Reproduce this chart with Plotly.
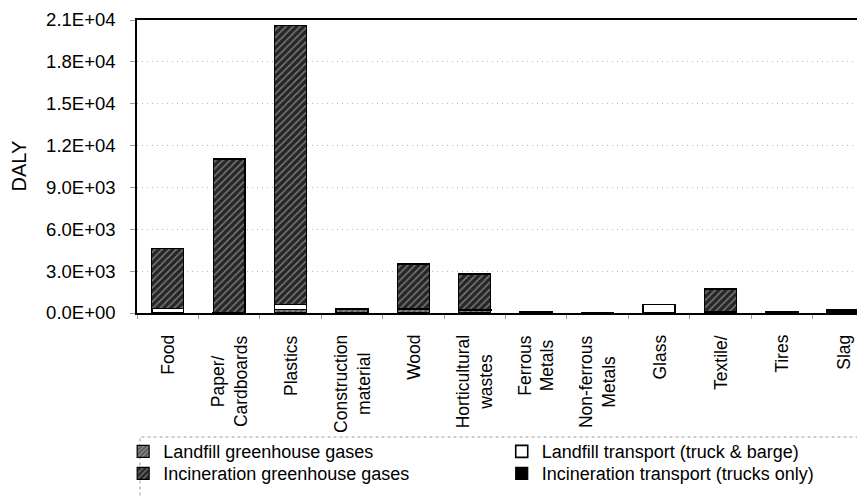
import plotly.graph_objects as go

categories = ["Food", "Paper/<br>Cardboards", "Plastics", "Construction<br>material", "Wood",
              "Horticultural<br>wastes", "Ferrous<br>Metals", "Non-ferrous<br>Metals", "Glass",
              "Textile/", "Tires", "Slag"]

landfill_ghg = [40, 30, 250, 250, 300, 200, 60, 20, 0, 100, 60, 60]
landfill_transport = [280, 20, 350, 30, 20, 20, 10, 10, 620, 10, 20, 150]
incineration_ghg = [4280, 10950, 20000, 0, 3180, 2580, 0, 0, 0, 1590, 0, 0]
incineration_transport = [20, 50, 30, 0, 20, 20, 0, 0, 0, 20, 0, 0]

y_ticks = [0, 3000, 6000, 9000, 12000, 15000, 18000, 21000]
y_tick_labels = ["0.0E+00", "3.0E+03", "6.0E+03", "9.0E+03", "1.2E+04", "1.5E+04", "1.8E+04", "2.1E+04"]

FONT = "Liberation Sans, Arial, sans-serif"
outline = dict(color="black", width=1.2)
plot_w, plot_h = 728, 293

fig = go.Figure()
fig.add_bar(x=categories, y=landfill_ghg, name="Landfill greenhouse gases", legend="legend",
            showlegend=True,
            marker=dict(color="#777", line=outline,
                        pattern=dict(shape="/", bgcolor="#5a5a5a", fgcolor="#e0e0e0", size=4, solidity=0.3)))
fig.add_bar(x=categories, y=landfill_transport, name="Landfill transport (truck & barge)", legend="legend2",
            showlegend=True,
            marker=dict(color="white", line=dict(color="black", width=1.6)))
fig.add_bar(x=categories, y=incineration_ghg, name="Incineration greenhouse gases", legend="legend3",
            showlegend=True,
            marker=dict(color="#333", line=outline,
                        pattern=dict(shape="/", bgcolor="#262626", fgcolor="#c8c8c8", size=5, solidity=0.3)))
fig.add_bar(x=categories, y=incineration_transport, name="Incineration transport (trucks only)", legend="legend4",
            showlegend=True,
            marker=dict(color="black", line=outline))

def leg(x, y):
    return dict(x=x, xanchor="left", y=y, yanchor="top", orientation="v", visible=True,
                font=dict(size=18), itemwidth=30, bgcolor="rgba(0,0,0,0)")

annotations = [dict(x=c, y=0, xref="x", yref="paper", text=c, textangle=-90,
                    xanchor="center", yanchor="top", yshift=-20, align="center",
                    showarrow=False, font=dict(size=17.5)) for c in categories]
annotations.append(dict(x=-119 / plot_w, y=0.5, xref="paper", yref="paper", text="DALY",
                        textangle=-90, showarrow=False, xanchor="center", yanchor="middle",
                        font=dict(size=20)))

# page body has an 8px default margin; compensate so the plot lands where the reference has it
fig.update_layout(
    width=857, height=488,
    barmode="stack", bargap=0.48,
    showlegend=True,
    margin=dict(l=129, r=0, t=12, b=183, autoexpand=False),
    paper_bgcolor="white", plot_bgcolor="white",
    font=dict(family=FONT, size=17, color="black"),
    legend=leg(-0.019, -0.41),
    legend2=leg(0.501, -0.41),
    legend3=leg(-0.019, -0.485),
    legend4=leg(0.501, -0.485),
    annotations=annotations,
    shapes=[dict(type="rect", xref="paper", yref="paper",
                 x0=3 / plot_w, x1=1.05, y0=-0.75, y1=-124 / plot_h,
                 line=dict(color="#999", width=1, dash="dot"), layer="below")],
)

fig.update_xaxes(
    range=[-0.5, 11.354], showline=True, linecolor="black", linewidth=1.5, mirror=True,
    ticks="outside", tickson="boundaries", ticklen=4, tickcolor="#999",
    showticklabels=False, showgrid=False, automargin=False,
)
fig.update_yaxes(
    range=[0, 21000], tickvals=y_ticks, ticktext=y_tick_labels,
    showline=True, linecolor="black", linewidth=1.5,
    ticks="outside", ticklen=5, tickcolor="#999", ticklabelstandoff=11,
    showgrid=True, gridcolor="#b8b8b8", gridwidth=1, griddash="1px,4px",
    tickfont=dict(size=18.5), zeroline=False, automargin=False,
)

fig.write_html("out.html")
